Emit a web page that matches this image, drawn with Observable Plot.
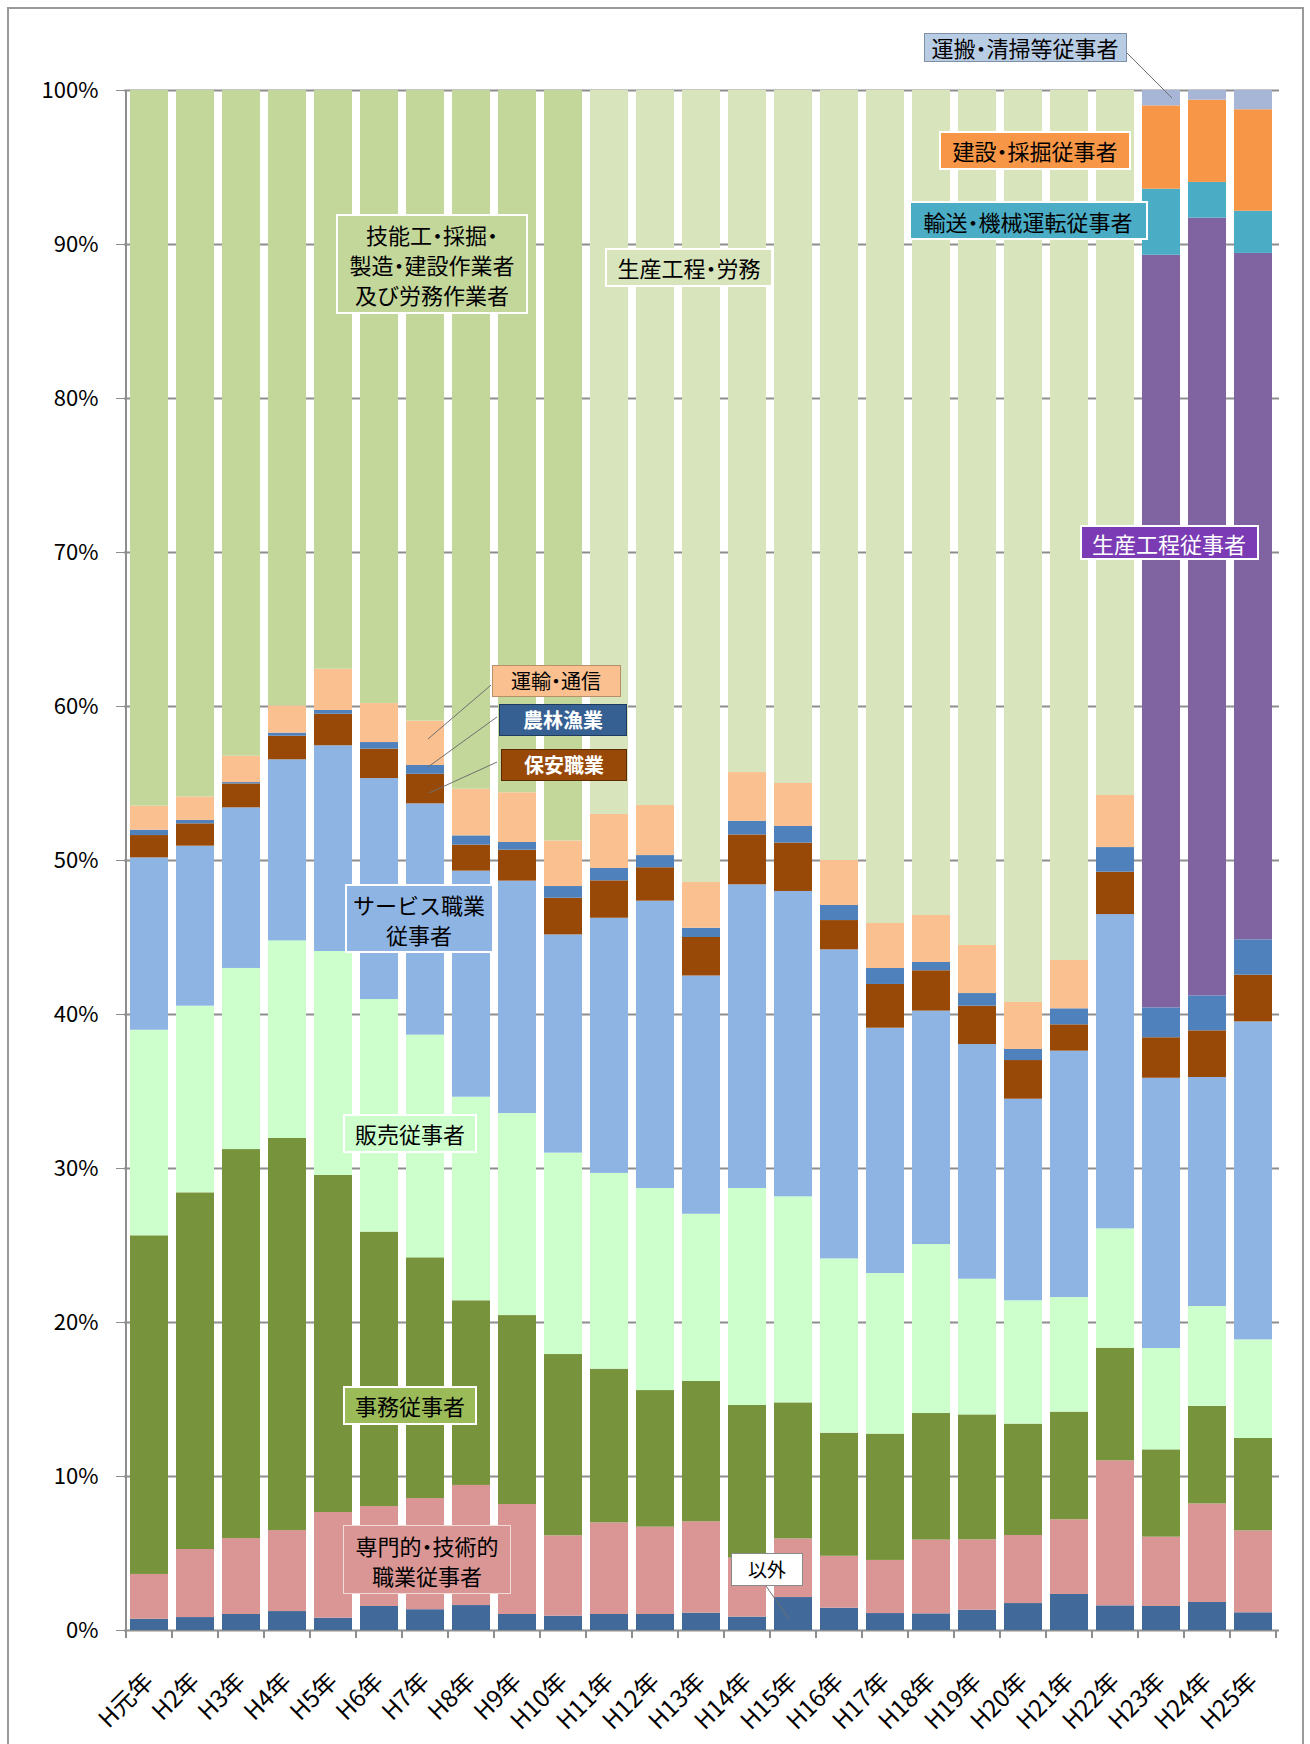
<!DOCTYPE html>
<html lang="ja">
<head>
<meta charset="utf-8">
<script src="https://cdn.jsdelivr.net/npm/d3@7"></script>
<script src="https://cdn.jsdelivr.net/npm/@observablehq/plot@0.6"></script>
<style>
html,body{margin:0;padding:0;background:#fff;}
#wrap{position:relative;width:1310px;height:1744px;overflow:hidden;font-family:"Noto Sans CJK JP","Noto Sans",sans-serif;}
#frame{position:absolute;left:7px;top:7px;width:1297px;height:1850px;border:2px solid #9a9a9a;box-sizing:border-box;pointer-events:none;}
#chart{position:absolute;left:0;top:0;}
.note{position:absolute;box-sizing:border-box;display:flex;align-items:center;justify-content:center;text-align:center;font-size:22px;line-height:30px;color:#000;font-feature-settings:"halt" 1;}
.note .txt{display:block;white-space:pre;text-align:center;}
</style>
</head>
<body>
<div id="wrap"><div id="frame"></div><div id="chart"></div></div>
<script>
// ---- data (percent shares, bottom to top) ----
const years = ["H元年","H2年","H3年","H4年","H5年","H6年","H7年","H8年","H9年","H10年","H11年","H12年","H13年","H14年","H15年","H16年","H17年","H18年","H19年","H20年","H21年","H22年","H23年","H24年","H25年"];

const other = [0.73,0.84,1.04,1.23,0.80,1.56,1.35,1.62,1.04,0.93,1.04,1.04,1.13,0.87,2.14,1.45,1.10,1.08,1.32,1.75,2.34,1.60,1.56,1.82,1.15];
const professional = [2.91,4.42,4.93,5.26,6.86,6.49,7.22,7.80,7.14,5.22,5.95,5.67,5.93,3.83,3.81,3.37,3.45,4.79,4.57,4.42,4.85,9.42,4.50,6.40,5.32];
const clerical = [21.99,23.16,25.26,25.46,21.89,17.82,15.63,11.99,12.27,11.77,9.98,8.87,9.11,9.91,8.83,7.99,8.20,8.22,8.11,7.23,6.99,7.31,5.67,6.33,6.00];
const sales = [13.35,12.12,11.76,12.83,14.54,15.10,14.46,13.22,13.12,13.08,12.71,13.12,10.86,14.09,13.38,11.32,10.43,10.97,8.81,8.01,7.44,7.75,6.58,6.49,6.40];
const service = [11.19,10.39,10.43,11.76,13.36,14.35,15.02,14.68,15.09,14.17,16.57,18.66,15.47,19.72,19.83,20.07,15.93,15.16,15.24,13.09,16.00,20.41,17.55,14.87,20.65];
const security = [1.45,1.45,1.55,1.53,2.05,1.91,1.92,1.69,2.01,2.38,2.43,2.17,2.50,3.24,3.14,1.90,2.84,2.62,2.49,2.51,1.71,2.75,2.63,3.03,3.03];
const farming = [0.35,0.22,0.09,0.20,0.24,0.43,0.57,0.60,0.50,0.76,0.80,0.79,0.60,0.89,1.08,0.98,1.04,0.54,0.82,0.72,1.04,1.60,1.94,2.27,2.30];
const transportComm = [1.56,1.53,1.71,1.77,2.68,2.53,2.88,3.03,3.23,2.96,3.51,3.25,2.97,3.16,2.79,2.92,2.92,3.05,3.12,3.05,3.14,3.38,null,null,null];
const craftLabor = [46.47,45.87,43.23,39.96,37.58,39.81,40.95,45.37,45.60,48.73,null,null,null,null,null,null,null,null,null,null,null,null,null,null,null];
const productionLabor = [null,null,null,null,null,null,null,null,null,null,47.01,46.43,51.43,44.29,45.00,50.00,54.09,53.57,55.52,59.22,56.49,45.78,null,null,null];
const production = [null,null,null,null,null,null,null,null,null,null,null,null,null,null,null,null,null,null,null,null,null,null,48.87,50.50,44.57];
const transportMachine = [null,null,null,null,null,null,null,null,null,null,null,null,null,null,null,null,null,null,null,null,null,null,4.29,2.32,2.74];
const construction = [null,null,null,null,null,null,null,null,null,null,null,null,null,null,null,null,null,null,null,null,null,null,5.41,5.34,6.59];
const carrying = [null,null,null,null,null,null,null,null,null,null,null,null,null,null,null,null,null,null,null,null,null,null,1.00,0.63,1.25];

const seriesNames = ["以外","専門的・技術的職業従事者","事務従事者","販売従事者","サービス職業従事者","保安職業","農林漁業","運輸・通信","技能工・採掘・製造・建設作業者及び労務作業者","生産工程・労務","生産工程従事者","輸送・機械運転従事者","建設・採掘従事者","運搬・清掃等従事者"];
const seriesValues = [other,professional,clerical,sales,service,security,farming,transportComm,craftLabor,productionLabor,production,transportMachine,construction,carrying];
const seriesColors = ["#416a9b","#da9694","#77933c","#ccffcc","#8eb4e3","#984807","#4f81bd","#fac090","#c4d79b","#d8e4bc","#8064a2","#4bacc6","#f79646","#a7b5d6"];
const yTicks = [0,0.1,0.2,0.3,0.4,0.5,0.6,0.7,0.8,0.9,1];

// ---- annotations ----
const notes = [
  {text:"運搬・清掃等従事者", year:"H20年", v:1.0276, dx:2, w:203, h:29, bg:"#b8cce4", border:"1px solid #7f8fa6"},
  {text:"建設・採掘従事者", year:"H20年", v:0.961, dx:12, w:192, h:39, bg:"#f79646", border:"2px solid #fff"},
  {text:"輸送・機械運転従事者", year:"H20年", v:0.915, dx:5, w:239, h:39, bg:"#4bacc6", border:"2px solid #fff"},
  {text:"生産工程従事者", year:"H23年", v:0.706, dx:8, w:179, h:35, bg:"#7b3bb5", border:"2px solid #fff", color:"#fff"},
  {text:"技能工・採掘・\n製造・建設作業者\n及び労務作業者", year:"H7年", v:0.887, dx:7, w:192, h:100, bg:"#c4d79b", border:"2px solid #fff"},
  {text:"生産工程・労務", year:"H13年", v:0.885, dx:-12, w:168, h:39, bg:"#d8e4bc", border:"2px solid #fff"},
  {text:"運輸・通信", year:"H10年", v:0.616, dx:-7, w:129, h:32, bg:"#fac090", border:"1px solid #b7906a", size:20},
  {text:"農林漁業", year:"H10年", v:0.591, dx:0, w:128, h:32, bg:"#376092", border:"1px solid #1f3a5f", color:"#fff", bold:true, size:20},
  {text:"保安職業", year:"H10年", v:0.562, dx:1, w:126, h:32, bg:"#984807", border:"1px solid #5a2a03", color:"#fff", bold:true, size:20},
  {text:"サービス職業\n従事者", year:"H7年", v:0.462, dx:-6, w:149, h:69, bg:"#8eb4e3", border:"2px solid #fff"},
  {text:"販売従事者", year:"H7年", v:0.3227, dx:-15, w:134, h:39, bg:"#ccffcc", border:"2px solid #fff"},
  {text:"事務従事者", year:"H7年", v:0.146, dx:-15, w:134, h:39, bg:"#9bbb59", border:"2px solid #fff"},
  {text:"専門的・技術的\n職業従事者", year:"H7年", v:0.0455, dx:2, w:168, h:69, bg:"#da9694", border:"1px solid #f2dcdb"},
  {text:"以外", year:"H15年", v:0.0396, dx:-26, w:72, h:33, bg:"#ffffff", border:"1px solid #8a8a8a", size:19}
];
const leaders = [
  {from:["H20年",1.024,104], to:["H23年",0.9948,11]},
  {from:["H10年",0.6136,-72], to:["H7年",0.5786,3]},
  {from:["H10年",0.5929,-66], to:["H7年",0.5604,3]},
  {from:["H10年",0.5636,-66], to:["H7年",0.5435,4]},
  {from:["H15年",0.0286,-27], to:["H15年",0.0071,-4]}
];

// ---- build table ----
const rows = [];
seriesNames.forEach((name, s) => {
  seriesValues[s].forEach((v, i) => { if (v != null) rows.push({year: years[i], series: name, value: v}); });
});

const chart = Plot.plot({
  width: 1310, height: 1744,
  marginLeft: 124, marginRight: 31, marginTop: 90, marginBottom: 114,
  style: {fontFamily: '"Noto Sans CJK JP","Noto Sans",sans-serif', fontSize: "22px", color: "#000", background: "transparent"},
  x: {type: "band", domain: years, paddingInner: 0.17, paddingOuter: 0.085, label: null},
  y: {domain: [0, 1], label: null},
  color: {domain: seriesNames, range: seriesColors},
  marks: [
    Plot.ruleY(yTicks, {stroke: "#8e8e8e", strokeWidth: 2}),
    Plot.barY(rows, Plot.stackY({x: "year", y: "value", fill: "series", offset: "normalize", order: seriesNames})),
    Plot.axisY({ticks: yTicks, tickFormat: d3.format(".0%"), tickSize: 8, tickPadding: 18, stroke: "#8e8e8e", fontSize: 22, label: null}),
    Plot.axisX({tickSize: 0, tickRotate: -45, tickPadding: 47, fontSize: 24, label: null})
  ]
});
document.getElementById("chart").appendChild(chart);

const X = chart.scale("x"), Y = chart.scale("y");
const cx = (yr, dx = 0) => X.apply(yr) + X.bandwidth / 2 + dx;
const cy = v => Y.apply(v);

// axis line + band-boundary ticks
const svg = d3.select(chart);
const g = svg.append("g").attr("stroke", "#8e8e8e").attr("stroke-width", 2);
const step = X.apply(years[1]) - X.apply(years[0]);
const gap = step - X.bandwidth;
const bounds = years.map(yr => X.apply(yr) - gap / 2);
bounds.push(bounds[bounds.length - 1] + step);
g.append("line").attr("x1", bounds[0]).attr("x2", bounds[0]).attr("y1", cy(1)).attr("y2", cy(0) + 8);
bounds.forEach(b => g.append("line").attr("x1", b).attr("x2", b).attr("y1", cy(0)).attr("y2", cy(0) + 8));

// leader lines
const lg = svg.append("g").attr("stroke", "#6f6f6f").attr("stroke-width", 1);
leaders.forEach(l => {
  lg.append("line")
    .attr("x1", cx(l.from[0], l.from[2])).attr("y1", cy(l.from[1]))
    .attr("x2", cx(l.to[0], l.to[2])).attr("y2", cy(l.to[1]));
});

// label boxes
const wrap = document.getElementById("wrap");
notes.forEach(n => {
  const d = document.createElement("div");
  d.className = "note";
  const t = document.createElement("span");
  t.className = "txt";
  t.textContent = n.text;
  d.appendChild(t);
  const x = cx(n.year, n.dx), y = cy(n.v);
  Object.assign(d.style, {
    left: (x - n.w / 2) + "px", top: (y - n.h / 2) + "px",
    width: n.w + "px", height: n.h + "px",
    background: n.bg, border: n.border,
    color: n.color || "#000",
    fontWeight: n.bold ? "700" : "400",
    fontSize: (n.size || 22) + "px"
  });
  wrap.appendChild(d);
});
</script>
</body>
</html>
